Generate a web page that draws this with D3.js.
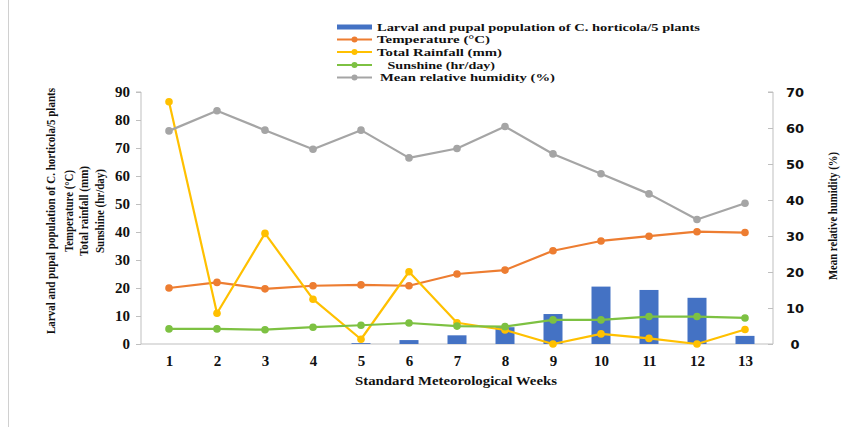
<!DOCTYPE html>
<html><head><meta charset="utf-8">
<script src="https://cdn.jsdelivr.net/npm/d3@7"></script>
<style>body{margin:0;background:#fff}svg{display:block}</style>
</head><body>
<svg id="c" width="854" height="427"></svg>
<script>
const weeks = [1,2,3,4,5,6,7,8,9,10,11,12,13];
const larvae = [0,0,0,0,0.3,1.4,3.1,6,10.7,20.5,19.3,16.5,2.9];
const temperature = [20,22,19.7,20.8,21.1,20.8,25,26.4,33.3,36.8,38.5,40.1,39.8];
const rainfall = [86.5,11,39.5,16,1.7,25.8,7.6,5,0,3.6,2,0,5.2];
const sunshine = [5.4,5.4,5.1,6,6.7,7.5,6.4,6.2,8.6,8.6,9.8,9.8,9.3];
const humidity = [59.2,64.8,59.4,54.1,59.4,51.7,54.3,60.4,52.8,47.3,41.7,34.6,39.1];
const leftTicks = [0,10,20,30,40,50,60,70,80,90];
const rightTicks = [0,10,20,30,40,50,60,70];
const legendLabels = ["Larval and pupal population of C. horticola/5 plants","Temperature (°C)","Total Rainfall (mm)","   Sunshine (hr/day)","Mean relative humidity (%)"];
const leftTitles = ["Larval and pupal population of C. horticola/5 plants","Temperature (°C)","Total rainfall (mm)","Sunshine (hr/day)"];
const rightTitle = "Mean relative humidity (%)";
const xTitle = "Standard Meteorological Weeks";

const C = {blue:"#4472C4", orange:"#ED7D31", yellow:"#FFC000", green:"#7DC142", grey:"#A5A5A5", axis:"#BFBFBF"};
const svg = d3.select("#c");
const serif = "'Liberation Serif','Times New Roman',serif";

const x = d3.scalePoint().domain(weeks).range([169,745]);
const yL = d3.scaleLinear().domain([0,90]).range([344,92]);
const yR = d3.scaleLinear().domain([0,70]).range([344,92]);
const plotL = 141, plotR = 773;

// frame line at left
svg.append("line").attr("x1",8.5).attr("x2",8.5).attr("y1",0).attr("y2",427).attr("stroke","#D0D0D0").attr("stroke-width",1);

// left axis
const gL = svg.append("g").attr("transform",`translate(${plotL},0)`)
  .call(d3.axisLeft(yL).tickValues(leftTicks).tickSize(5).tickPadding(6));
gL.selectAll("path,line").attr("stroke",C.axis);
gL.select(".domain").attr("d",`M-5,${yL(90)}H0V${yL(0)}`);
gL.selectAll("text").attr("font-family",serif).attr("font-weight","bold").attr("font-size",15).attr("fill","#111");

// right axis
const gR = svg.append("g").attr("transform",`translate(${plotR},0)`)
  .call(d3.axisRight(yR).tickValues(rightTicks).tickSize(0).tickPadding(14));
gR.selectAll("path,line").attr("stroke",C.axis);
gR.selectAll(".tick").append("line").attr("x1",-5).attr("x2",0).attr("stroke",C.axis);
gR.select(".domain").attr("d",`M-5,${yR(70)}H0V${yR(0)}`);
gR.selectAll("text").attr("font-family","'DejaVu Sans',Verdana,sans-serif").attr("font-weight","bold").attr("font-size",13).attr("fill","#111").attr("text-anchor","middle").attr("dx",8);

// bottom axis
const gB = svg.append("g").attr("transform","translate(0,344)")
  .call(d3.axisBottom(x).tickSize(0).tickPadding(11));
gB.select(".domain").remove();
gB.append("line").attr("x1",plotL).attr("x2",plotR).attr("stroke",C.axis).attr("stroke-width",1.2);
gB.selectAll("text").attr("font-family",serif).attr("font-weight","bold").attr("font-size",15).attr("fill","#111");

// bars
const bw = 19;
svg.append("g").selectAll("rect").data(weeks).join("rect")
  .attr("x",(d)=>x(d)-bw/2).attr("width",bw)
  .attr("y",(d,i)=>yL(larvae[i])).attr("height",(d,i)=>yL(0)-yL(larvae[i]))
  .attr("fill",C.blue);

function series(vals, scale, color){
  const pts = weeks.map((w,i)=>[x(w), scale(vals[i])]);
  svg.append("path").attr("d",d3.line()(pts)).attr("fill","none").attr("stroke",color).attr("stroke-width",2.2).attr("stroke-linejoin","round");
  svg.append("g").selectAll("circle").data(pts).join("circle")
    .attr("cx",d=>d[0]).attr("cy",d=>d[1]).attr("r",3.8).attr("fill",color);
}
series(temperature,yL,C.orange);
series(rainfall,yL,C.yellow);
series(sunshine,yL,C.green);
series(humidity,yR,C.grey);

// axis titles
const ltx = [55,73,88,104];
const ltLen = [246,82,90,84];
leftTitles.forEach((t,i)=>{
  svg.append("text").attr("transform",`translate(${ltx[i]},211) rotate(-90)`)
    .attr("text-anchor","middle").attr("font-family",serif).attr("font-weight","bold").attr("font-size",12)
    .attr("textLength",ltLen[i]).attr("lengthAdjust","spacingAndGlyphs").attr("fill","#111").text(t);
});
svg.append("text").attr("transform","translate(837,216) rotate(-90)")
  .attr("text-anchor","middle").attr("font-family",serif).attr("font-weight","bold").attr("font-size",12)
  .attr("textLength",128).attr("lengthAdjust","spacingAndGlyphs").attr("fill","#111").text(rightTitle);
svg.append("text").attr("x",456).attr("y",385).attr("text-anchor","middle")
  .attr("font-family",serif).attr("font-weight","bold").attr("font-size",13)
  .attr("textLength",202).attr("lengthAdjust","spacingAndGlyphs").attr("fill","#111").text(xTitle);

// legend
const legColors = [C.blue,C.orange,C.yellow,C.green,C.grey];
const legY = [27,39.5,52,65,77.5];
const legTX = [377,377,377,377,380];
const legLen = [323,113,125,118,175];
legendLabels.forEach((t,i)=>{
  const g = svg.append("g");
  if(i===0){
    g.append("line").attr("x1",337).attr("x2",372).attr("y1",legY[i]).attr("y2",legY[i]).attr("stroke",legColors[i]).attr("stroke-width",5);
  } else {
    g.append("line").attr("x1",337).attr("x2",372).attr("y1",legY[i]).attr("y2",legY[i]).attr("stroke",legColors[i]).attr("stroke-width",2);
    g.append("circle").attr("cx",354.5).attr("cy",legY[i]).attr("r",3).attr("fill",legColors[i]);
  }
  g.append("text").attr("x",legTX[i]).attr("y",legY[i]+3.5).attr("font-family",serif).attr("font-weight","bold")
    .attr("font-size",11).attr("textLength",legLen[i]).attr("lengthAdjust","spacingAndGlyphs")
    .attr("xml:space","preserve").style("white-space","pre").attr("fill","#111").text(t);
});
</script>
</body></html>
